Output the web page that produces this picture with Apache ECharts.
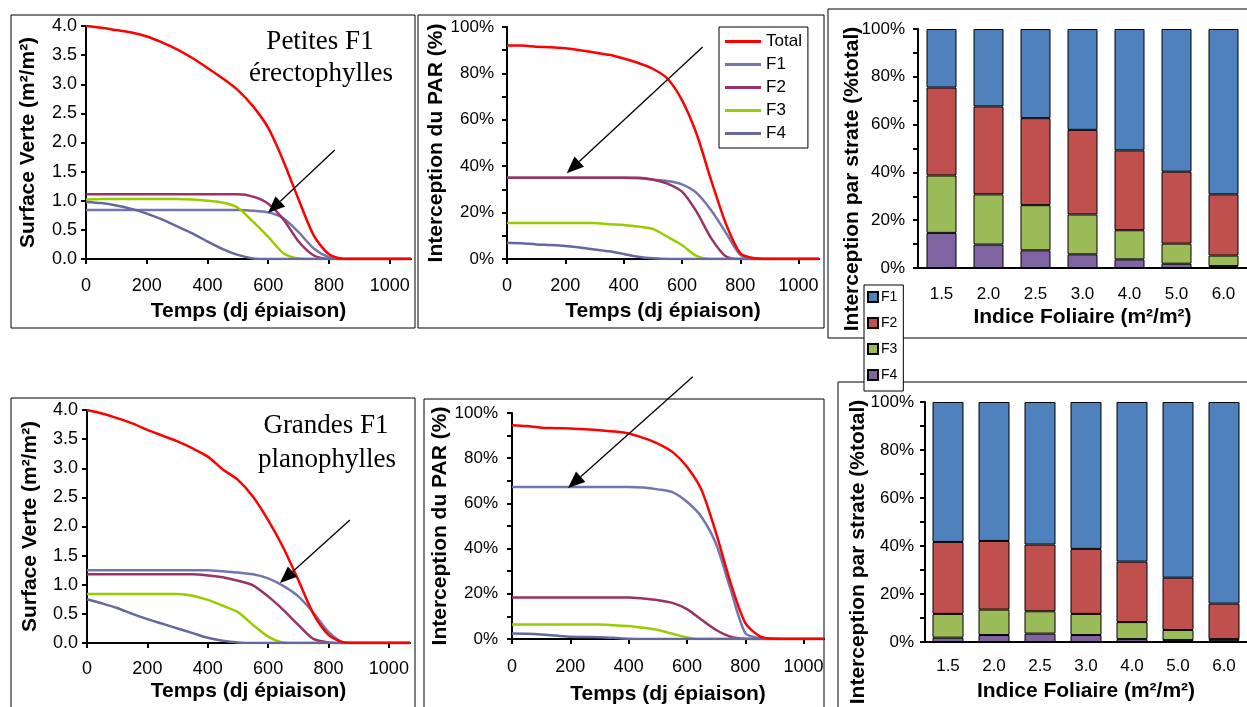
<!DOCTYPE html>
<html>
<head>
<meta charset="utf-8">
<script src="https://cdn.jsdelivr.net/npm/echarts@6/dist/echarts.min.js"></script>
<style>
html, body { margin: 0; padding: 0; background: #fff; }
#chart { width: 1247px; height: 707px; }
</style>
</head>
<body>
<div id="chart"></div>
<script>
// temps (dj epiaison)
const temps = [0, 50, 100, 150, 200, 250, 300, 350, 400, 450, 500, 550, 600, 650, 700, 750, 800, 850, 900, 950, 1000, 1050, 1070];

// surface verte, petites F1 erectophylles (m2/m2)
const petitesSvTotal = [4.00, 3.97, 3.93, 3.89, 3.82, 3.72, 3.60, 3.45, 3.28, 3.10, 2.90, 2.62, 2.25, 1.68, 1.02, 0.40, 0.08, 0, 0, 0, 0, 0, 0];
const petitesSvF1 = [0.84, 0.84, 0.84, 0.84, 0.84, 0.84, 0.84, 0.84, 0.84, 0.84, 0.84, 0.83, 0.80, 0.70, 0.46, 0.18, 0.03, 0, 0, 0, 0, 0, 0];
const petitesSvF2 = [1.11, 1.11, 1.11, 1.11, 1.11, 1.11, 1.11, 1.11, 1.11, 1.11, 1.11, 1.07, 0.95, 0.68, 0.30, 0.06, 0, 0, 0, 0, 0, 0, 0];
const petitesSvF3 = [1.02, 1.03, 1.03, 1.03, 1.03, 1.03, 1.03, 1.02, 1.00, 0.97, 0.88, 0.64, 0.38, 0.10, 0.01, 0, 0, 0, 0, 0, 0, 0, 0];
const petitesSvF4 = [0.98, 0.96, 0.92, 0.86, 0.78, 0.68, 0.56, 0.44, 0.30, 0.17, 0.07, 0.01, 0, 0, 0, 0, 0, 0, 0, 0, 0, 0, 0];

// interception du PAR, petites F1 (%)
const petitesParTotal = [92, 92, 91.5, 91.3, 90.8, 90, 89, 88, 86.4, 84.5, 82, 77.8, 68.5, 54, 34, 15.4, 2.5, 0.3, 0, 0, 0, 0, 0];
const petitesParF1 = [35, 35, 35, 35, 35, 35, 35, 35, 35, 34.8, 34.2, 33.6, 32.2, 28.5, 21, 11.5, 1.8, 0.1, 0, 0, 0, 0, 0];
const petitesParF2 = [35, 35, 35, 35, 35, 35, 35, 35, 35, 35, 34.3, 32.5, 29, 20.4, 9, 1.2, 0, 0, 0, 0, 0, 0, 0];
const petitesParF3 = [15.5, 15.5, 15.5, 15.5, 15.5, 15.5, 15.5, 15, 14.7, 14, 13, 9.6, 6, 1.3, 0, 0, 0, 0, 0, 0, 0, 0, 0];
const petitesParF4 = [7, 6.8, 6.3, 6, 5.6, 5, 4.1, 3.3, 2.2, 1.0, 0.3, 0, 0, 0, 0, 0, 0, 0, 0, 0, 0, 0, 0];

// surface verte, grandes F1 planophylles
const grandesSvTotal = [4.00, 3.94, 3.86, 3.77, 3.66, 3.56, 3.46, 3.34, 3.20, 2.98, 2.80, 2.51, 2.11, 1.64, 1.08, 0.50, 0.14, 0.01, 0, 0, 0, 0, 0];
const grandesSvF1 = [1.25, 1.25, 1.25, 1.25, 1.25, 1.25, 1.25, 1.25, 1.25, 1.23, 1.21, 1.18, 1.11, 0.98, 0.80, 0.52, 0.19, 0.01, 0, 0, 0, 0, 0];
const grandesSvF2 = [1.18, 1.18, 1.18, 1.18, 1.18, 1.18, 1.18, 1.18, 1.16, 1.13, 1.07, 0.99, 0.80, 0.57, 0.31, 0.07, 0.01, 0, 0, 0, 0, 0, 0];
const grandesSvF3 = [0.84, 0.84, 0.84, 0.84, 0.84, 0.84, 0.84, 0.81, 0.74, 0.64, 0.53, 0.31, 0.11, 0.01, 0, 0, 0, 0, 0, 0, 0, 0, 0];
const grandesSvF4 = [0.75, 0.68, 0.60, 0.50, 0.41, 0.33, 0.25, 0.17, 0.09, 0.04, 0.01, 0, 0, 0, 0, 0, 0, 0, 0, 0, 0, 0, 0];

// interception du PAR, grandes F1
const grandesParTotal = [94.6, 94.2, 93.5, 93.3, 93.1, 92.8, 92.4, 91.8, 90.9, 89, 86.5, 82.8, 76.2, 65.9, 46.8, 24.7, 7.1, 1.2, 0.1, 0, 0, 0, 0];
const grandesParF1 = [67.3, 67.3, 67.3, 67.3, 67.3, 67.3, 67.3, 67.3, 67.3, 67, 66.2, 65, 60.7, 54, 42, 21.8, 2.6, 0.3, 0, 0, 0, 0, 0];
const grandesParF2 = [18.4, 18.4, 18.4, 18.4, 18.4, 18.4, 18.4, 18.4, 18.4, 17.9, 17.2, 16, 13.2, 8.5, 4, 1, 0.1, 0, 0, 0, 0, 0, 0];
const grandesParF3 = [6.4, 6.4, 6.4, 6.4, 6.4, 6.4, 6.4, 6.1, 5.8, 5, 4, 2.3, 0.7, 0, 0, 0, 0, 0, 0, 0, 0, 0, 0];
const grandesParF4 = [2.4, 2.3, 2.0, 1.5, 1.0, 0.9, 0.8, 0.5, 0.1, 0, 0, 0, 0, 0, 0, 0, 0, 0, 0, 0, 0, 0, 0];

// interception par strate (% total) vs indice foliaire
const indices = ['1.5', '2.0', '2.5', '3.0', '4.0', '5.0', '6.0'];
const petitesBarF1 = [24.5, 32.4, 37.3, 42.2, 50.8, 59.7, 69.2];
const petitesBarF2 = [36.8, 36.8, 36.4, 35.4, 33.4, 30.1, 25.6];
const petitesBarF3 = [24.0, 21.0, 18.9, 16.7, 12.2, 8.4, 4.4];
const petitesBarF4 = [14.7, 9.8, 7.4, 5.7, 3.6, 1.8, 0.8];
const grandesBarF1 = [58.3, 57.9, 59.4, 61.2, 66.5, 73.2, 84.0];
const grandesBarF2 = [30.0, 28.6, 27.8, 27.1, 25.2, 21.8, 14.8];
const grandesBarF3 = [9.9, 10.6, 9.3, 8.8, 7.1, 4.2, 0.7];
const grandesBarF4 = [1.8, 2.9, 3.5, 2.9, 1.2, 0.8, 0.5];

const sans = 'Liberation Sans, Arial, sans-serif';
const serif = 'Liberation Serif, Times New Roman, serif';
const lineColors = {Total: '#ff0000', F1: '#7375ae', F2: '#993366', F3: '#99cc00', F4: '#65679f'};
const barColors = {F1: '#4f81bd', F2: '#c0504d', F3: '#9bbb59', F4: '#8064a2'};
const nameStyle = {fontFamily: sans, fontSize: 21, fontWeight: 'bold', color: '#000'};

const chart = echarts.init(document.getElementById('chart'));

function lineSeries (idx, name, vals) {
    return {
        type: 'line',
        name: name,
        xAxisIndex: idx,
        yAxisIndex: idx,
        data: temps.map((t, i) => [t, vals[i]]),
        showSymbol: false,
        smooth: 0.25,
        lineStyle: {width: 2.5, color: lineColors[name]},
        itemStyle: {color: lineColors[name]},
        z: name === 'Total' ? 4 : 3
    };
}

function barSeries (idx, strate, vals, barWidth) {
    return {
        type: 'bar',
        name: 'Strate ' + strate,
        xAxisIndex: idx,
        yAxisIndex: idx,
        stack: 'strate' + idx,
        barWidth: barWidth,
        data: vals,
        itemStyle: {color: barColors[strate], borderColor: '#000', borderWidth: 1}
    };
}

function timeAxis (idx, labelMargin, nameGap) {
    return {
        type: 'value',
        gridIndex: idx,
        min: 0,
        max: 1070,
        interval: 200,
        name: 'Temps (dj épiaison)',
        nameLocation: 'middle',
        nameGap: nameGap,
        nameTextStyle: nameStyle,
        axisLine: {lineStyle: {color: '#000', width: 2}},
        axisTick: {length: 5, lineStyle: {color: '#000', width: 2}},
        axisLabel: {margin: labelMargin, fontFamily: sans, fontSize: 18, color: '#000', showMaxLabel: false, formatter: v => String(v)},
        splitLine: {show: false}
    };
}

function svAxis (idx, labelMargin, nameGap) {
    return {
        type: 'value',
        gridIndex: idx,
        min: 0,
        max: 4,
        interval: 0.5,
        name: 'Surface Verte (m²/m²)',
        nameLocation: 'middle',
        nameGap: nameGap,
        nameTextStyle: nameStyle,
        axisLine: {show: true, lineStyle: {color: '#000', width: 2}},
        axisTick: {show: true, length: 5, lineStyle: {color: '#000', width: 2}},
        axisLabel: {margin: labelMargin, fontFamily: sans, fontSize: 18, color: '#000', formatter: v => v.toFixed(1)},
        splitLine: {show: false}
    };
}

function pctAxis (idx, labelMargin, name, nameGap) {
    return {
        type: 'value',
        gridIndex: idx,
        min: 0,
        max: 100,
        interval: 20,
        name: name,
        nameLocation: 'middle',
        nameGap: nameGap,
        nameTextStyle: nameStyle,
        axisLine: {show: true, lineStyle: {color: '#000', width: 2}},
        axisTick: {show: true, length: 5, lineStyle: {color: '#000', width: 2}},
        minorTick: {show: true, splitNumber: 2, length: 5, lineStyle: {color: '#000', width: 2}},
        axisLabel: {margin: labelMargin, fontFamily: sans, fontSize: 17, color: '#000', formatter: v => v + '%'},
        splitLine: {show: false}
    };
}

function indiceAxis (idx, labelMargin, nameGap) {
    return {
        type: 'category',
        gridIndex: idx,
        data: indices,
        name: 'Indice Foliaire (m²/m²)',
        nameLocation: 'middle',
        nameGap: nameGap,
        nameTextStyle: nameStyle,
        axisLine: {lineStyle: {color: '#000', width: 2}},
        axisTick: {length: 5, lineStyle: {color: '#000', width: 2}},
        axisLabel: {margin: labelMargin, fontFamily: sans, fontSize: 17, color: '#000'}
    };
}

function box (x, y, w, h) {
    return {type: 'rect', shape: {x: x, y: y, width: w, height: h}, style: {fill: 'none', stroke: '#000', lineWidth: 1}, z: 0};
}

function label (text, x, y, opts) {
    return {
        type: 'text', x: x, y: y, rotation: opts.rotation || 0, z: 10,
        style: {text: text, font: opts.font, fill: '#000', align: 'center', verticalAlign: 'middle'}
    };
}

chart.setOption({
    animation: false,
    backgroundColor: '#fff',
    grid: [
        {left: 86, top: 26, width: 325, height: 233},
        {left: 507, top: 27, width: 312, height: 232},
        {left: 918, top: 29, width: 329, height: 239},
        {left: 87, top: 410, width: 323, height: 233},
        {left: 512, top: 413, width: 312, height: 226},
        {left: 925, top: 402, width: 327, height: 240}
    ],
    xAxis: [
        timeAxis(0, 18, 42),
        timeAxis(1, 18, 42),
        indiceAxis(2, 18, 39),
        timeAxis(3, 17, 38),
        timeAxis(4, 19, 45),
        indiceAxis(5, 16, 39)
    ],
    yAxis: [
        svAxis(0, 9, 47),
        pctAxis(1, 13, 'Interception du PAR (%)', 56),
        pctAxis(2, 13, '', 0),
        svAxis(3, 9, 46),
        pctAxis(4, 14, 'Interception du PAR (%)', 59),
        pctAxis(5, 11, '', 0)
    ],
    legend: [
        {
            data: ['Total', 'F1', 'F2', 'F3', 'F4'],
            orient: 'vertical',
            left: 719,
            top: 27,
            padding: [6, 6, 6, 6],
            itemGap: 6,
            icon: 'rect',
            itemWidth: 36,
            itemHeight: 3,
            borderColor: '#000',
            borderWidth: 1,
            backgroundColor: '#fff',
            selectedMode: false,
            textStyle: {fontFamily: sans, fontSize: 17, color: '#000'}
        },
        {
            data: ['Strate F1', 'Strate F2', 'Strate F3', 'Strate F4'],
            formatter: n => n.replace('Strate ', ''),
            orient: 'vertical',
            left: 864,
            top: 285,
            padding: [5, 6, 9, 3],
            itemGap: 12,
            icon: 'rect',
            itemWidth: 10,
            itemHeight: 10,
            borderColor: '#000',
            borderWidth: 1,
            backgroundColor: '#fff',
            selectedMode: false,
            z: 20,
            textStyle: {fontFamily: sans, fontSize: 14, color: '#000', padding: [0, 0, 0, -2]}
        }
    ],
    series: [
        lineSeries(0, 'F1', petitesSvF1),
        lineSeries(0, 'F2', petitesSvF2),
        lineSeries(0, 'F3', petitesSvF3),
        lineSeries(0, 'F4', petitesSvF4),
        lineSeries(0, 'Total', petitesSvTotal),
        lineSeries(1, 'F1', petitesParF1),
        lineSeries(1, 'F2', petitesParF2),
        lineSeries(1, 'F3', petitesParF3),
        lineSeries(1, 'F4', petitesParF4),
        lineSeries(1, 'Total', petitesParTotal),
        barSeries(2, 'F4', petitesBarF4, 30),
        barSeries(2, 'F3', petitesBarF3, 30),
        barSeries(2, 'F2', petitesBarF2, 30),
        barSeries(2, 'F1', petitesBarF1, 30),
        lineSeries(3, 'F1', grandesSvF1),
        lineSeries(3, 'F2', grandesSvF2),
        lineSeries(3, 'F3', grandesSvF3),
        lineSeries(3, 'F4', grandesSvF4),
        lineSeries(3, 'Total', grandesSvTotal),
        lineSeries(4, 'F1', grandesParF1),
        lineSeries(4, 'F2', grandesParF2),
        lineSeries(4, 'F3', grandesParF3),
        lineSeries(4, 'F4', grandesParF4),
        lineSeries(4, 'Total', grandesParTotal),
        barSeries(5, 'F4', grandesBarF4, 31),
        barSeries(5, 'F3', grandesBarF3, 31),
        barSeries(5, 'F2', grandesBarF2, 31),
        barSeries(5, 'F1', grandesBarF1, 31)
    ]
});

// arrows, given in data coordinates of each panel
const arrows = [
    {grid: 0, from: [819, 1.87], to: [599, 0.79]},
    {grid: 1, from: [671, 91.4], to: [205, 37]},
    {grid: 3, from: [871, 2.11], to: [639, 1.03]},
    {grid: 4, from: [620, 116], to: [192, 66.8]}
];

const graphics = [
    box(11, 15, 404, 313),
    box(418, 15, 406, 313),
    box(828, 9, 430, 329),
    box(11, 398, 404, 320),
    box(424, 399, 400, 320),
    box(838, 382, 420, 340),
    label('Petites F1', 320, 42, {font: '27px ' + serif}),
    label('érectophylles', 321, 74, {font: '27px ' + serif}),
    label('Grandes F1', 326, 426, {font: '27px ' + serif}),
    label('planophylles', 327, 460, {font: '27px ' + serif}),
    label('Interception par strate (%total)', 852, 179, {font: 'bold 21px ' + sans, rotation: Math.PI / 2}),
    label('Interception par strate (%total)', 858, 552, {font: 'bold 21px ' + sans, rotation: Math.PI / 2})
];

arrows.forEach(a => {
    const p1 = chart.convertToPixel({gridIndex: a.grid}, a.from);
    const p2 = chart.convertToPixel({gridIndex: a.grid}, a.to);
    const dx = p2[0] - p1[0];
    const dy = p2[1] - p1[1];
    const len = Math.sqrt(dx * dx + dy * dy);
    const ux = dx / len;
    const uy = dy / len;
    const head = 17;
    const half = 7;
    const bx = p2[0] - ux * head;
    const by = p2[1] - uy * head;
    graphics.push({type: 'line', z: 12, shape: {x1: p1[0], y1: p1[1], x2: bx, y2: by}, style: {stroke: '#000', lineWidth: 1.3}});
    graphics.push({
        type: 'polygon', z: 12,
        shape: {points: [p2, [bx - uy * half, by + ux * half], [bx + uy * half, by - ux * half]]},
        style: {fill: '#000'}
    });
});

chart.setOption({graphic: graphics});
</script>
</body>
</html>
